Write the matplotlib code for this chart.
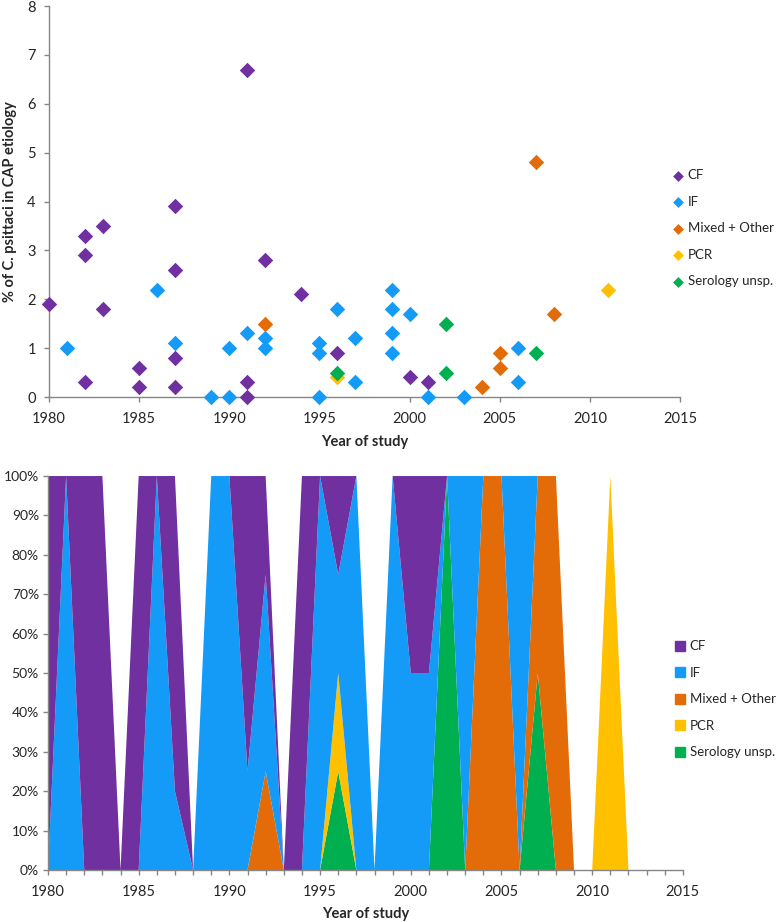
import numpy as np
import matplotlib.pyplot as plt

plt.rcParams['font.family'] = ['Lato', 'DejaVu Sans']

# study year / % of C. psittaci, one list per diagnostic method
cf_year = [1980, 1982, 1982, 1982, 1983, 1983, 1985, 1985, 1987, 1987, 1987, 1987,
           1991, 1991, 1991, 1992, 1994, 1996, 2000, 2001]
cf_val = [1.9, 3.3, 2.9, 0.3, 3.5, 1.8, 0.6, 0.2, 3.9, 2.6, 0.8, 0.2,
          6.7, 0.3, 0.0, 2.8, 2.1, 0.9, 0.4, 0.3]

if_year = [1981, 1986, 1987, 1989, 1990, 1990, 1991, 1992, 1992, 1995, 1995, 1995,
           1996, 1997, 1997, 1999, 1999, 1999, 1999, 2000, 2001, 2003, 2006, 2006]
if_val = [1.0, 2.2, 1.1, 0.0, 1.0, 0.0, 1.3, 1.2, 1.0, 1.1, 0.9, 0.0,
          1.8, 1.2, 0.3, 2.2, 1.8, 1.3, 0.9, 1.7, 0.0, 0.0, 1.0, 0.3]

mix_year = [1992, 2004, 2005, 2005, 2007, 2008]
mix_val = [1.5, 0.2, 0.9, 0.6, 4.8, 1.7]

pcr_year = [1996, 2011]
pcr_val = [0.4, 2.2]

ser_year = [1996, 2002, 2002, 2007]
ser_val = [0.5, 1.5, 0.5, 0.9]

labels = ['CF', 'IF', 'Mixed + Other', 'PCR', 'Serology unsp.']
colors = ['#7030A0', '#149BF7', '#E36C09', '#FFC000', '#00B050']
years_all = [cf_year, if_year, mix_year, pcr_year, ser_year]
vals_all = [cf_val, if_val, mix_val, pcr_val, ser_val]

axis_col = '#868686'
txt_col = '#262626'

fig = plt.figure(figsize=(7.8, 9.22), dpi=100)

#### top: scatter
ax1 = fig.add_axes([0.0628, 0.5694, 0.809, 0.424])
for yr, v, lab, c in zip(years_all, vals_all, labels, colors):
    ax1.scatter(yr, v, marker='D', s=62, c=c, label=lab, linewidths=0, zorder=3, clip_on=False)
ax1.set_xlim(1980, 2015)
ax1.set_ylim(0, 8)
ax1.set_xticks(range(1980, 2016, 5))
ax1.set_yticks(range(0, 9))
ax1.set_xlabel('Year of study', fontsize=10.5, fontweight='bold', color=txt_col, labelpad=7)
ax1.set_ylabel('% of C. psittaci in CAP etiology', fontsize=10.5, fontweight='bold',
               color=txt_col, labelpad=7)
ax1.legend(loc='center left', bbox_to_anchor=(0.988, 0.432), frameon=False, fontsize=9.5,
           borderpad=0, borderaxespad=0, handletextpad=0.3, labelspacing=1.1,
           markerscale=0.7, handlelength=0.85, labelcolor=txt_col)

#### bottom: 100% stacked area of number of studies per year
years = np.arange(1980, 2016)
counts = []
for yr in years_all:
    counts.append(np.array([yr.count(y) for y in years], dtype=float))
total = np.sum(counts, axis=0)
pct = [np.where(total > 0, c / np.where(total > 0, total, 1) * 100, 0) for c in counts]

ax2 = fig.add_axes([0.0615, 0.0564, 0.814, 0.4273])
# stacking order bottom -> top: Serology, PCR, Mixed, IF, CF
order = [4, 3, 2, 1, 0]
polys = ax2.stackplot(years, [pct[i] for i in order], colors=[colors[i] for i in order],
                      linewidth=0, antialiased=True)
ax2.set_xlim(1980, 2015)
ax2.set_ylim(0, 100)
ax2.set_xticks(years)
ax2.set_xticklabels([str(y) if y % 5 == 0 else '' for y in years])
ax2.set_yticks(range(0, 101, 10))
ax2.set_yticklabels(['%d%%' % v for v in range(0, 101, 10)])
ax2.set_xlabel('Year of study', fontsize=10.5, fontweight='bold', color=txt_col, labelpad=6)
handles = [plt.Rectangle((0, 0), 1, 1, color=c) for c in colors]
ax2.legend(handles, labels, loc='center left', bbox_to_anchor=(0.988, 0.433), frameon=False,
           fontsize=9.5, borderpad=0, borderaxespad=0, handletextpad=0.35,
           labelspacing=1.1, handlelength=0.75, handleheight=0.75, labelcolor=txt_col)

for ax in (ax1, ax2):
    for s in ['top', 'right']:
        ax.spines[s].set_visible(False)
    for s in ['left', 'bottom']:
        ax.spines[s].set_color(axis_col)
        ax.spines[s].set_linewidth(1.0)
    ax.tick_params(axis='both', colors=axis_col, labelcolor=txt_col, labelsize=10.5,
                   length=3.5, width=1.0, direction='out')
    ax.tick_params(axis='x', pad=7)
ax1.tick_params(axis='y', pad=6)
ax2.tick_params(axis='y', pad=3, labelsize=10)

fig.savefig('out.png', dpi=100)
